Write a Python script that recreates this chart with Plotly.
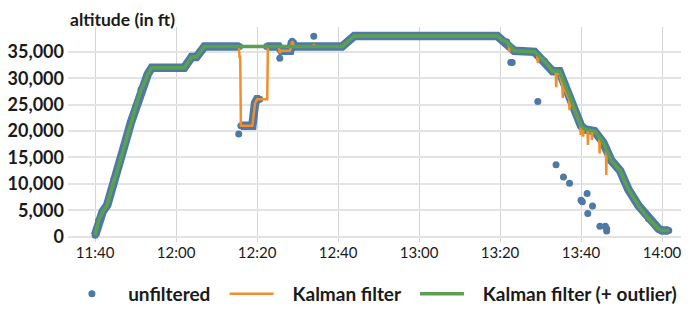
import plotly.graph_objects as go

DAY = "2021-06-01 "

# ---- unfiltered track (None = no data) ----
track_time = ["11:40:00", "11:40:50", "11:41:50", "11:43:00", "11:43:30", "11:44:40", "11:45:10",
              "11:46:20", "11:47:30", "11:48:50", "11:50:00", "11:51:20", "11:52:00", "11:53:00",
              "11:54:00", "12:02:00", "12:03:50", "12:05:00", "12:07:00", "12:15:40", "12:15:50",
              "12:16:00", "12:18:50", "12:19:30", "12:20:00", "12:20:40", "12:21:00",
              "12:22:20", "12:25:20", "12:26:00", "12:28:10", "12:28:40", "12:29:10", "12:41:00",
              "12:44:00", "13:19:20", "13:20:30", "13:21:40", "13:23:30", "13:28:30", "13:31:00",
              "13:33:00", "13:34:40", "13:37:10", "13:40:00", "13:41:00", "13:43:20", "13:45:30",
              "13:47:30", "13:49:40", "13:51:40", "13:54:10", "13:56:40", "13:59:10", "14:00:00",
              "14:01:40"]
track_alt = [300, 3000, 4700, 6000, 7500, 10900, 11800,
             14700, 18000, 21600, 24500, 27850, 28800, 30800,
             32000, 32000, 34000, 34000, 36000, 36000, None,
             21000, 21000, 25300, 26000, 26000, None,
             36000, 36000, 35200, 35200, 37000, 36000, 36000,
             38000, 38000, 37200, 36900, 35200, 35000, 33200,
             31300, 31300, 26600, 21000, 20300, 20000, 17800,
             14400, 12500, 9000, 5900, 3400, 1500, 1200,
             1200]

# ---- unfiltered outliers ----
out_time = ["12:15:28", "12:25:36", "12:34:00", "13:22:40", "13:23:00", "13:29:20", "13:33:50",
            "13:35:40", "13:37:10", "13:40:00", "13:40:20", "13:41:30", "13:41:40", "13:42:50",
            "13:44:40", "13:46:00", "13:46:20", "13:46:20"]
out_alt = [19430, 33800, 37970, 33000, 33000, 25600, 13600,
           11300, 10100, 6900, 6600, 8200, 4400, 5800,
           2000, 2000, 1500, 1100]

# ---- Kalman filter ----
kal_time = ["11:40:00", "11:40:50", "11:41:50", "11:43:00", "11:43:30", "11:44:40", "11:45:10",
            "11:46:20", "11:47:30", "11:48:50", "11:50:00", "11:51:20", "11:52:00", "11:53:00",
            "11:54:00", "12:02:00", "12:03:50", "12:05:00", "12:07:00", "12:15:30", "12:15:40",
            "12:15:50", "12:16:00", "12:18:50", "12:19:30", "12:20:00", "12:22:30", "12:22:40",
            "12:25:20", "12:25:35", "12:26:00", "12:28:10", "12:28:40", "12:29:10", "12:33:50",
            "12:34:00", "12:34:20", "12:41:00", "12:44:00", "13:19:20", "13:20:30", "13:21:40",
            "13:22:10", "13:22:18", "13:22:26", "13:23:30", "13:28:30", "13:29:10", "13:29:20",
            "13:29:30", "13:31:00", "13:33:00", "13:33:45", "13:33:52", "13:34:00", "13:34:40",
            "13:35:22", "13:35:30", "13:35:38", "13:37:05", "13:37:10", "13:37:18", "13:39:50",
            "13:39:55", "13:40:02", "13:40:25", "13:40:30", "13:40:37", "13:41:00", "13:41:37",
            "13:41:42", "13:41:49", "13:42:37", "13:42:42", "13:42:49", "13:43:20", "13:44:30",
            "13:44:35", "13:44:42", "13:45:30", "13:46:09", "13:46:14", "13:46:21", "13:47:30",
            "13:49:40", "13:51:40", "13:54:10", "13:56:40", "13:59:10", "14:00:00", "14:01:40"]
kal_alt = [300, 3000, 4700, 6000, 7500, 10900, 11800,
           14700, 18000, 21600, 24500, 27850, 28800, 30800,
           32000, 32000, 34000, 34000, 36000, 36000, 34000,
           34000, 21000, 21000, 25300, 26000, 26000, 36000,
           36000, 34800, 35200, 35200, 37000, 36000, 36000,
           36400, 36000, 36000, 38000, 38000, 37200, 36900,
           36200, 35000, 36100, 35200, 35000, 34500, 32850,
           34400, 33200, 31300, 31300, 28300, 31000, 30800,
           28700, 26250, 28600, 26000, 23970, 25900, 21100,
           19240, 21000, 20700, 18920, 20600, 20300, 20100,
           17350, 20100, 20000, 18300, 20000, 20000, 18800,
           15780, 18700, 17800, 16600, 11670, 16500, 14400,
           12500, 9000, 5900, 3400, 1500, 1200, 1200]

# ---- Kalman filter with outlier rejection ----
kalo_time = ["11:40:00", "11:40:50", "11:41:50", "11:43:00", "11:43:30", "11:44:40", "11:45:10",
             "11:46:20", "11:47:30", "11:48:50", "11:50:00", "11:51:20", "11:52:00", "11:53:00",
             "11:54:00", "12:02:00", "12:03:50", "12:05:00", "12:07:00", "12:41:00",
             "12:44:00", "13:19:20", "13:20:30", "13:21:40", "13:23:30", "13:28:30", "13:31:00",
             "13:33:00", "13:34:40", "13:37:10", "13:40:00", "13:41:00", "13:43:20", "13:45:30",
             "13:47:30", "13:49:40", "13:51:40", "13:54:10", "13:56:40", "13:59:10", "14:00:00",
             "14:01:40"]
kalo_alt = [300, 3000, 4700, 6000, 7500, 10900, 11800,
            14700, 18000, 21600, 24500, 27850, 28800, 30800,
            32000, 32000, 34000, 34000, 36000, 36000,
            38000, 38000, 37200, 36900, 35200, 35000, 33200,
            31300, 31300, 26600, 21000, 20300, 20000, 17800,
            14400, 12500, 9000, 5900, 3400, 1500, 1200,
            1200]

y_ticks = [0, 5000, 10000, 15000, 20000, 25000, 30000, 35000]
x_ticks = ["11:40", "12:00", "12:20", "12:40", "13:00", "13:20", "13:40", "14:00"]
series_names = ["unfiltered", "Kalman filter", "Kalman filter (+ outlier)"]

BLUE = "#4e79a7"
ORANGE = "#f28e2b"
GREEN = "#59a14f"
FONT = "Lato"
INK = "#1a1a1a"
NB = "\u00a0"  # non-breaking space used to widen legend spacing


def ts(lst):
    return [DAY + t for t in lst]


fig = go.Figure()
fig.add_trace(go.Scatter(x=ts(track_time), y=track_alt, mode="lines",
                         line=dict(color=BLUE, width=8.5), legendgroup="u",
                         showlegend=False, hoverinfo="skip"))
fig.add_trace(go.Scatter(x=ts(track_time + out_time), y=track_alt + out_alt, mode="markers",
                         marker=dict(color=BLUE, size=7),
                         name=NB * 2 + series_names[0] + NB * 2, legendgroup="u"))
fig.add_trace(go.Scatter(x=ts(kal_time), y=kal_alt, mode="lines",
                         line=dict(color=ORANGE, width=2.5),
                         name=NB * 3 + series_names[1] + NB * 2))
fig.add_trace(go.Scatter(x=ts(kalo_time), y=kalo_alt, mode="lines",
                         line=dict(color=GREEN, width=3.5),
                         name=NB * 3 + series_names[2]))

# the page body adds an 8px offset; the figure is sized so it ends at the window edge
fig.update_layout(
    width=681, height=305,
    margin=dict(l=60, r=0, t=19, b=71),
    paper_bgcolor="white", plot_bgcolor="white",
    font=dict(family=FONT, size=16, color=INK),
    showlegend=True,
    legend=dict(orientation="h", x=-0.005, xanchor="left", y=-0.33, yanchor="bottom",
                font=dict(family=FONT, size=19, color=INK, weight="bold"),
                itemwidth=44),
    xaxis=dict(type="date", range=[DAY + "11:33:18", DAY + "14:06:40"],
               tickvals=ts(x_ticks), ticktext=x_ticks, automargin=False,
               showgrid=True, gridcolor="#d4d4d4", gridwidth=1, zeroline=False,
               showline=False, ticks="", tickfont=dict(size=15)),
    yaxis=dict(range=[-1000, 39700], tickvals=y_ticks, automargin=False,
               ticktext=[f"{v:,}" for v in y_ticks],
               showgrid=True, gridcolor="#e3e3e3", gridwidth=1.5, zeroline=False,
               showline=False, ticks="", ticklabelstandoff=3,
               tickfont=dict(size=18, weight="bold")),
    annotations=[dict(text="altitude (in ft)", xref="paper", yref="paper", x=0, y=1,
                      xanchor="left", yanchor="bottom", yshift=-5, showarrow=False,
                      font=dict(family=FONT, size=17.5, weight="bold", color=INK))],
)

fig.write_html("out.html")
